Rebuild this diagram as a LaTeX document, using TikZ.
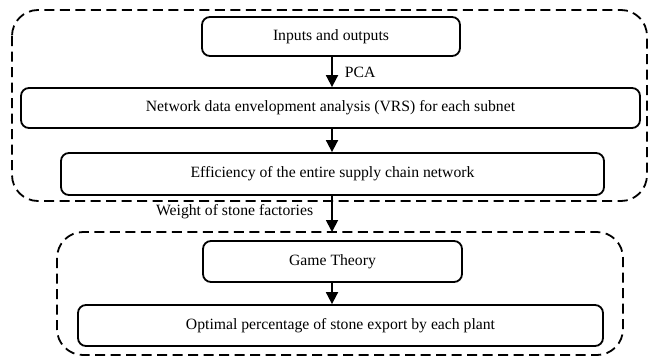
\documentclass[tikz,border=0pt]{standalone}
\usepackage{fontspec}
\setmainfont{Liberation Serif}
\usetikzlibrary{arrows.meta}
\begin{document}
\begin{tikzpicture}[x=1pt,y=-1pt,
  stage/.style={draw, line width=1.8pt, rounded corners=8pt, inner sep=0pt,
    font=\fontsize{15.7}{18}\selectfont},
  group/.style={draw, line width=1.8pt, dash pattern=on 10pt off 5.5pt, rounded corners=26pt},
  flow/.style={line width=1.8pt, -{Triangle[length=12pt,width=12pt]}},
  note/.style={font=\fontsize{15.7}{18}\selectfont, inner sep=0pt}]
  \useasboundingbox (0,0) rectangle (650,359);
  % first stage: efficiency evaluation
  \draw[group] (12,10) rectangle (647,201);
  \node[stage, minimum width=258pt, minimum height=39pt] (io) at (331,36.5) {Inputs and outputs};
  \node[stage, minimum width=619pt, minimum height=40pt] (nde) at (330.5,108) {Network data envelopment analysis (VRS) for each subnet};
  \node[stage, minimum width=543pt, minimum height=42pt] (eff) at (332.5,174) {Efficiency of the entire supply chain network};
  % second stage: game theory
  \draw[group] (57,232) rectangle (623,355);
  \coordinate (gtop) at (332,232);
  \node[stage, minimum width=259pt, minimum height=41pt] (gt) at (332.5,261.5) {Game Theory};
  \node[stage, minimum width=525pt, minimum height=41pt] (opt) at (340.5,325.5) {Optimal percentage of stone export by each plant};
  % connectors
  \draw[flow] (io.south -| 332,0) -- (nde.north -| 332,0) node[note, midway, right=12pt] {PCA};
  \draw[flow] (nde.south -| 332,0) -- (eff.north -| 332,0);
  \draw[flow] (eff.south -| 332,0) -- (gtop) node[note, pos=0.45, left=18pt] {Weight of stone factories};
  \draw[flow] (gt.south -| 332,0) -- (opt.north -| 332,0);
\end{tikzpicture}
\end{document}
